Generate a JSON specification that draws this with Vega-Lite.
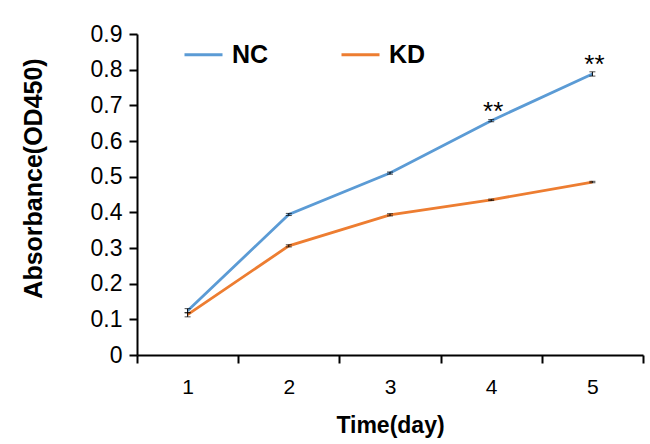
{
  "$schema": "https://vega.github.io/schema/vega-lite/v6.json",
  "width": 506,
  "height": 321,
  "autosize": {"type": "none"},
  "padding": {"left": 137, "top": 34, "right": 7, "bottom": 89},
  "background": "white",
  "config": {
    "view": {"stroke": null},
    "font": "Liberation Sans",
    "axis": {
      "domainColor": "black", "domainWidth": 2, "tickColor": "black", "tickWidth": 2,
      "grid": false, "labelColor": "black", "titleColor": "black",
      "labelFont": "Liberation Sans", "titleFont": "Liberation Sans", "titleFontWeight": "bold"
    }
  },
  "datasets": {
    "main": [
      {"day": "1", "group": "NC", "od": 0.124, "err": 0.006},
      {"day": "2", "group": "NC", "od": 0.394, "err": 0.003},
      {"day": "3", "group": "NC", "od": 0.510, "err": 0.003},
      {"day": "4", "group": "NC", "od": 0.657, "err": 0.003},
      {"day": "5", "group": "NC", "od": 0.788, "err": 0.006},
      {"day": "1", "group": "KD", "od": 0.113, "err": 0.006},
      {"day": "2", "group": "KD", "od": 0.306, "err": 0.003},
      {"day": "3", "group": "KD", "od": 0.393, "err": 0.003},
      {"day": "4", "group": "KD", "od": 0.435, "err": 0.002},
      {"day": "5", "group": "KD", "od": 0.485, "err": 0.002}
    ],
    "stars": [
      {"day": "4", "od": 0.657, "label": "**"},
      {"day": "5", "od": 0.788, "label": "**"}
    ]
  },
  "encoding": {
    "x": {
      "field": "day", "type": "ordinal",
      "scale": {"type": "band", "paddingInner": 0, "paddingOuter": 0},
      "axis": {
        "title": "Time(day)", "labelAngle": 0, "tickBand": "extent",
        "labelFontSize": 21, "tickSize": 8, "labelPadding": 13,
        "titleFontSize": 23, "titlePadding": 17
      }
    },
    "y": {
      "field": "od", "type": "quantitative",
      "scale": {"domain": [0, 0.9], "nice": false},
      "axis": {
        "title": "Absorbance(OD450)", "values": [0, 0.1, 0.2, 0.3, 0.4, 0.5, 0.6, 0.7, 0.8, 0.9],
        "labelExpr": "datum.value == 0 ? '0' : format(datum.value, '.1f')",
        "labelFontSize": 23, "tickSize": 8, "labelPadding": 7,
        "titleFontSize": 25, "titleBaseline": "middle", "titleX": -104, "titleY": 144
      }
    }
  },
  "layer": [
    {
      "data": {"name": "main"},
      "mark": {"type": "line", "strokeWidth": 2.8},
      "encoding": {
        "color": {
          "field": "group", "type": "nominal",
          "scale": {"domain": ["NC", "KD"], "range": ["#5B9BD5", "#ED7D31"]},
          "legend": {
            "orient": "none", "legendX": 46, "legendY": 0, "direction": "horizontal",
            "title": null, "symbolType": "stroke", "symbolStrokeWidth": 3, "symbolSize": 1444,
            "labelFontSize": 25, "labelFontWeight": "bold", "labelColor": "black",
            "labelOffset": 8, "columnPadding": 66
          }
        }
      }
    },
    {
      "data": {"name": "main"},
      "mark": {"type": "errorbar", "ticks": {"size": 6, "color": "black", "strokeWidth": 2}, "color": "black", "strokeWidth": 2},
      "encoding": {
        "yError": {"field": "err"},
        "detail": {"field": "group"}
      }
    },
    {
      "data": {"name": "stars"},
      "mark": {"type": "text", "fontSize": 26, "color": "black", "baseline": "alphabetic", "dy": -1, "dx": 2},
      "encoding": {
        "text": {"field": "label"}
      }
    }
  ]
}
